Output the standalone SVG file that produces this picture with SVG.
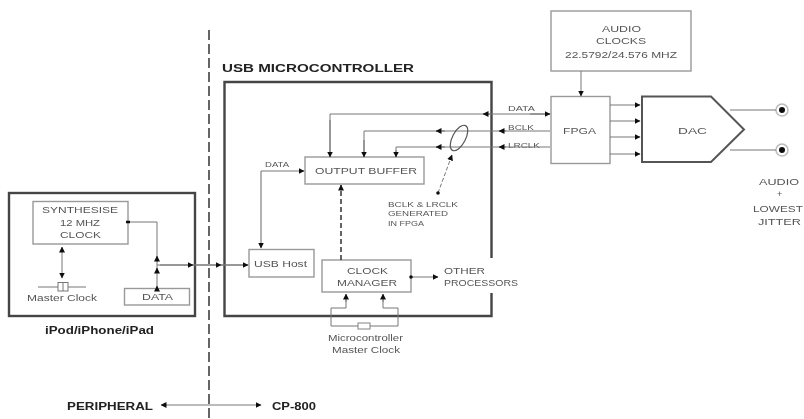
<svg xmlns="http://www.w3.org/2000/svg" width="804" height="419" viewBox="0 0 804 419">
<style>
text{font-family:"Liberation Sans",Arial,sans-serif;fill:#555;font-size:9px;text-anchor:start;lengthAdjust:spacingAndGlyphs}
.b{font-weight:bold;fill:#222;font-size:10px}
.sm{font-size:7px}
.box{fill:#fff;stroke:#999;stroke-width:1.4}
.heavy{fill:none;stroke:#444;stroke-width:2.4}
.c{fill:none;stroke:#777;stroke-width:1}
.a{marker-end:url(#ah)}
</style>
<defs>
<marker id="ah" markerWidth="6" markerHeight="6" refX="5.500" refY="3" orient="auto" markerUnits="userSpaceOnUse"><path d="M0 0L6 3L0 6Z" fill="#111"/></marker>
<filter id="bl" x="-2%" y="-2%" width="104%" height="104%"><feGaussianBlur stdDeviation="0.7"/></filter>
</defs>
<rect width="804" height="419" fill="#fff"/>
<g filter="url(#bl)">
<g id="ipod">
<rect class="heavy" x="9" y="193" width="186" height="123"/>
<text class="b" x="45" y="334" textLength="109" lengthAdjust="spacingAndGlyphs">iPod/iPhone/iPad</text>
</g>
<g id="synth"><rect class="box" x="33" y="201.500" width="95" height="42.500"/>
<text x="42" y="212.500" textLength="76" lengthAdjust="spacingAndGlyphs">SYNTHESISE</text><text x="60" y="225.500" textLength="40" lengthAdjust="spacingAndGlyphs">12 MHZ</text><text x="60" y="237.500" textLength="41" lengthAdjust="spacingAndGlyphs">CLOCK</text></g>
<g id="data"><rect class="box" x="124.500" y="288.500" width="65" height="16.500"/><text x="142" y="299.500" textLength="31" lengthAdjust="spacingAndGlyphs">DATA</text></g>
<g id="master-clock"><path class="c" d="M38 287H86"/><rect x="58" y="282.500" width="10" height="8.500" fill="#fff" stroke="#777"/><path class="c" d="M63 282.500V291"/>
<text x="27" y="300.500" textLength="70" lengthAdjust="spacingAndGlyphs">Master Clock</text></g>
<g id="usb-mcu">
<path class="heavy" d="M491.500 258V82H224.500V316H491.500V293"/>
<text class="b" x="222" y="72" textLength="192" lengthAdjust="spacingAndGlyphs">USB MICROCONTROLLER</text>
</g>
<g id="output-buffer"><rect class="box" x="305" y="157" width="119" height="27"/><text x="315" y="173.500" textLength="102" lengthAdjust="spacingAndGlyphs">OUTPUT BUFFER</text></g>
<g id="usb-host"><rect class="box" x="249" y="249.500" width="65" height="27.500"/><text x="254" y="266.500" textLength="53" lengthAdjust="spacingAndGlyphs">USB Host</text></g>
<g id="clock-manager"><rect class="box" x="322" y="260" width="89" height="32"/><text x="347" y="273.500" textLength="41" lengthAdjust="spacingAndGlyphs">CLOCK</text><text x="337" y="285.500" textLength="60" lengthAdjust="spacingAndGlyphs">MANAGER</text></g>
<g id="other"><text x="444" y="273.500" textLength="41" lengthAdjust="spacingAndGlyphs">OTHER</text><text x="444" y="285.500" textLength="74" lengthAdjust="spacingAndGlyphs">PROCESSORS</text></g>
<g id="mcu-clock"><rect x="358" y="323" width="12" height="6" fill="#fff" stroke="#777" stroke-width=".9"/>
<text x="328" y="340.500" textLength="75" lengthAdjust="spacingAndGlyphs">Microcontroller</text><text x="332" y="352.500" textLength="68" lengthAdjust="spacingAndGlyphs">Master Clock</text></g>
<g id="audio-clocks"><rect class="box" x="551" y="11" width="140" height="60"/><text x="602" y="31.500" textLength="39" lengthAdjust="spacingAndGlyphs">AUDIO</text><text x="596" y="43.500" textLength="50" lengthAdjust="spacingAndGlyphs">CLOCKS</text><text x="565" y="57.500" textLength="112" lengthAdjust="spacingAndGlyphs">22.5792/24.576 MHZ</text></g>
<g id="fpga"><rect class="box" x="551" y="96.500" width="59" height="67"/><text x="563" y="133.500" textLength="33" lengthAdjust="spacingAndGlyphs">FPGA</text></g>
<g id="dac"><path d="M642 96.500H711L744 129.500L711 162H642Z" fill="#fff" stroke="#555" stroke-width="2"/><text x="678" y="133.500" textLength="29" lengthAdjust="spacingAndGlyphs">DAC</text></g>
<g id="jack-1"><circle cx="782" cy="110" r="6" fill="#fff" stroke="#bbb" stroke-width="1.500"/><circle cx="782" cy="110" r="3" fill="#111"/></g>
<g id="jack-2"><circle cx="782" cy="150" r="6" fill="#fff" stroke="#bbb" stroke-width="1.500"/><circle cx="782" cy="150" r="3" fill="#111"/></g>
<g id="audio-label"><text x="759" y="184.500" textLength="40" lengthAdjust="spacingAndGlyphs">AUDIO</text><text x="777" y="197">+</text><text x="753" y="211.500" textLength="50" lengthAdjust="spacingAndGlyphs">LOWEST</text><text x="758" y="224.500" textLength="43" lengthAdjust="spacingAndGlyphs">JITTER</text></g>
<g id="bclk-note"><text class="sm" x="388" y="206.500" textLength="70" lengthAdjust="spacingAndGlyphs">BCLK &amp; LRCLK</text><text class="sm" x="388" y="216" textLength="60" lengthAdjust="spacingAndGlyphs">GENERATED</text><text class="sm" x="388" y="226" textLength="36" lengthAdjust="spacingAndGlyphs">IN FPGA</text></g>
<g id="side-labels">
<text class="b" x="67" y="410" textLength="86" lengthAdjust="spacingAndGlyphs">PERIPHERAL</text>
<text class="b" x="272" y="410" textLength="44" lengthAdjust="spacingAndGlyphs">CP-800</text>
<text class="sm" x="265" y="166.500" textLength="24" lengthAdjust="spacingAndGlyphs">DATA</text>
<text class="sm" x="508" y="110.500" textLength="27" lengthAdjust="spacingAndGlyphs">DATA</text>
<text class="sm" x="508" y="129.500" textLength="26" lengthAdjust="spacingAndGlyphs">BCLK</text>
<text class="sm" x="508" y="147.500" textLength="32" lengthAdjust="spacingAndGlyphs">LRCLK</text>
</g>
<g id="connectors">
<path d="M209 30V419" fill="none" stroke="#555" stroke-width="1.800" stroke-dasharray="10 4"/>
<path class="c a" d="M62 262V247"/><path class="c a" d="M62 262V278"/>
<path class="c" d="M128 222H157V288"/>
<path d="M126 222h4" stroke="#111" stroke-width="2.500"/>
<path class="c a" d="M157 262V256"/><path class="c a" d="M157 273V268"/><path class="c a" d="M157 288V286"/>
<path class="c" d="M157 265H248"/><path class="c a" d="M160 265H193"/><path class="c a" d="M193 265H221"/><path class="c a" d="M221 265H248"/>
<path d="M261 171V248" fill="none" stroke="#aaa" stroke-width="1.800" marker-end="url(#ah)"/>
<path class="c a" d="M261 171H304"/>
<path class="c" d="M330 157V114H550"/><path class="c a" d="M330 120V157"/>
<path class="c a" d="M490 114H483"/><path class="c a" d="M530 114H550"/>
<path class="c" d="M364 157V131H550"/><path class="c a" d="M364 140V157"/>
<path class="c" d="M396 157V147H550"/><path class="c a" d="M396 150V157"/>
<path class="c a" d="M445 131H436"/><path class="c a" d="M445 147H436"/>
<path class="c a" d="M506 131H499"/><path class="c a" d="M506 147H499"/>
<ellipse cx="459" cy="138" rx="6.500" ry="14" transform="rotate(28 459 138)" fill="none" stroke="#555" stroke-width="1.200"/>
<path d="M438 193L452 155" fill="none" stroke="#777" stroke-width="1" stroke-dasharray="4 2" marker-end="url(#ah)"/>
<circle cx="438" cy="193" r="1.800" fill="#111"/>
<path d="M341 260V185" fill="none" stroke="#333" stroke-width="1.500" stroke-dasharray="5 3" marker-end="url(#ah)"/>
<path class="c a" d="M411 277H438"/><circle cx="411" cy="277" r="1.800" fill="#111"/>
<path class="c" d="M358 326H331V308H346V300"/><path class="c a" d="M346 302V294"/>
<path class="c" d="M370 326H398V308H383V300"/><path class="c a" d="M383 302V294"/>
<path class="c a" d="M581 71V96"/>
<path class="c a" d="M610 105H640"/><path class="c a" d="M610 121H640"/><path class="c a" d="M610 137H640"/><path class="c a" d="M610 154H640"/>
<path class="c" d="M730 110H776"/><path class="c" d="M730 150H776"/>
<path class="c a" d="M209 405H161"/>
<path class="c a" d="M209 405H261"/>
</g>
</g>
</svg>
